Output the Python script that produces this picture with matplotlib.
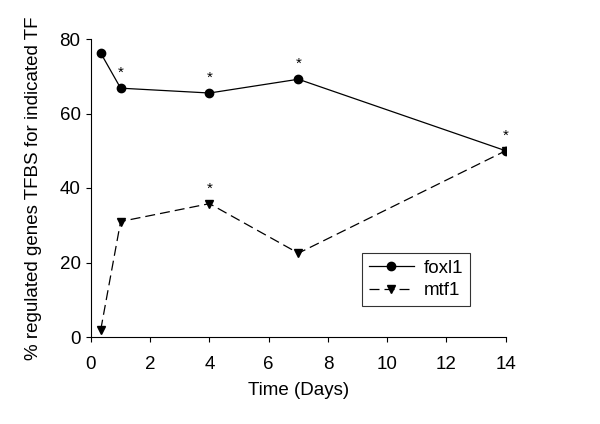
import matplotlib
matplotlib.use("Agg")
import matplotlib.pyplot as plt

plt.rcParams['font.family'] = ['Liberation Sans', 'DejaVu Sans']

days = [0.33, 1, 4, 7, 14]
foxl1 = [76.2, 66.8, 65.5, 69.2, 50.0]
mtf1 = [2.0, 31.0, 35.8, 22.5, 50.0]
foxl1_star_days = [1, 4, 7, 14]
mtf1_star_days = [4]
xticks = [0, 2, 4, 6, 8, 10, 12, 14]
yticks = [0, 20, 40, 60, 80]

fig = plt.figure(figsize=(6, 4.24), dpi=100)
ax = fig.add_axes([91/600, 87/424, 414.7/600, 298/424])

ax.plot(days, foxl1, color='black', lw=0.9, marker='o', ms=6, label='foxl1')
ax.plot(days, mtf1, color='black', lw=0.9, ls=(0, (8, 4)), marker='v', ms=6, label='mtf1')

for d in foxl1_star_days:
    y = foxl1[days.index(d)]
    ax.annotate('*', (d, y), xytext=(0, 6), textcoords='offset points', ha='center', va='bottom', fontsize=11)
for d in mtf1_star_days:
    y = mtf1[days.index(d)]
    ax.annotate('*', (d, y), xytext=(0, 6), textcoords='offset points', ha='center', va='bottom', fontsize=11)

ax.set_xlim(0, 14)
ax.set_ylim(0, 80)
ax.set_xticks(xticks)
ax.set_yticks(yticks)
ax.spines['top'].set_visible(False)
ax.spines['right'].set_visible(False)
for s in ['left', 'bottom']:
    ax.spines[s].set_linewidth(0.8)
ax.tick_params(direction='out', length=3.5, width=0.8, labelsize=13.5)
ax.tick_params(axis='x', pad=10)
ax.tick_params(axis='y', pad=4)
ax.set_xlabel('Time (Days)', fontsize=13.5, labelpad=7)
ax.set_ylabel('% regulated genes TFBS for indicated TF', fontsize=13.5, labelpad=13)

leg = ax.legend(loc='upper left', bbox_to_anchor=((362-91)/414.7, (337-253)/298), fontsize=13.5,
                frameon=True, fancybox=False, edgecolor='black', handlelength=2.4,
                borderpad=0.35, labelspacing=0.3, handletextpad=0.55, borderaxespad=0)
leg.get_frame().set_linewidth(0.8)

fig.savefig('out.png', dpi=100)
